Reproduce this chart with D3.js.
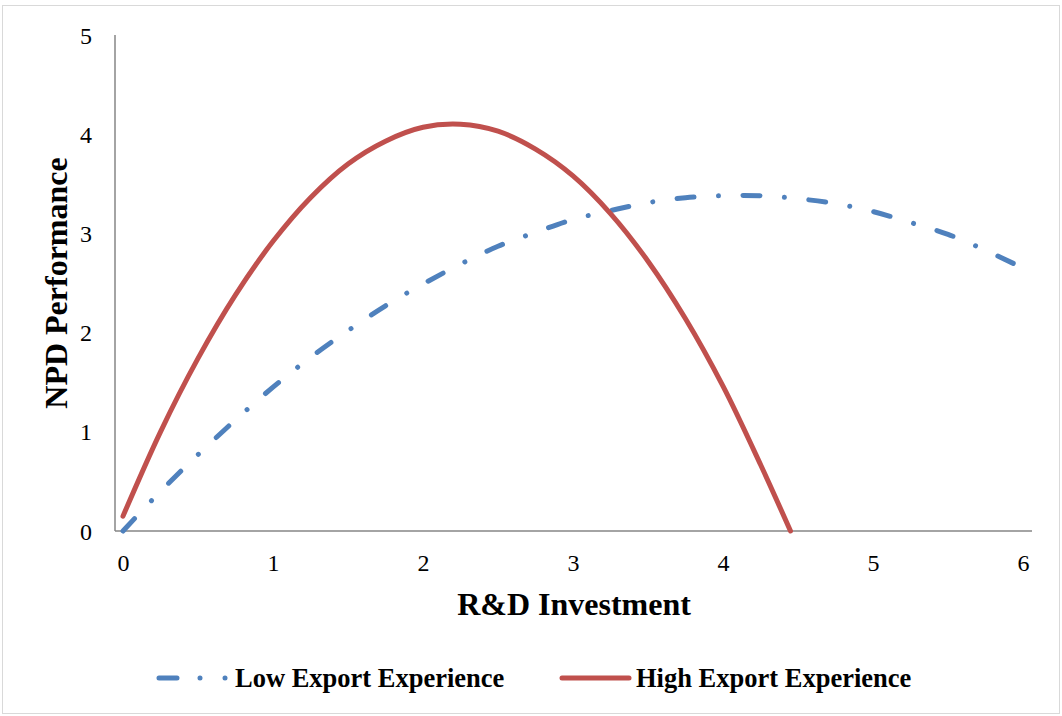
<!DOCTYPE html>
<html>
<head>
<meta charset="utf-8">
<script src="https://cdn.jsdelivr.net/npm/d3@7/dist/d3.min.js"></script>
<style>
  html, body { margin: 0; padding: 0; background: #fff; }
  svg { display: block; }
  text { font-family: "Liberation Serif", "Times New Roman", serif; fill: #000; }
</style>
</head>
<body>
<svg id="chart" width="1062" height="716"></svg>
<script>
// ---- data ----
const xTicks = [0, 1, 2, 3, 4, 5, 6];
const yTicks = [0, 1, 2, 3, 4, 5];

const lowX = [0, 0.25, 0.5, 0.75, 1.0, 1.25, 1.5, 1.75, 2.0, 2.25, 2.5, 2.75, 3.0, 3.25, 3.5, 3.75, 4.0, 4.25, 4.5, 4.75, 5.0, 5.25, 5.5, 5.75, 6.0];
const lowY = [0, 0.40, 0.77, 1.12, 1.45, 1.75, 2.02, 2.27, 2.49, 2.69, 2.87, 3.01, 3.14, 3.23, 3.31, 3.36, 3.38, 3.38, 3.35, 3.30, 3.22, 3.11, 2.99, 2.83, 2.65];

const highX = [0, 0.25, 0.5, 0.75, 1.0, 1.25, 1.5, 1.75, 2.0, 2.25, 2.5, 2.75, 3.0, 3.25, 3.5, 3.75, 4.0, 4.25, 4.45];
const highY = [0.15, 1.00, 1.74, 2.38, 2.92, 3.36, 3.70, 3.93, 4.07, 4.10, 4.03, 3.85, 3.58, 3.20, 2.72, 2.14, 1.46, 0.67, 0.0];

const seriesNames = ["Low Export Experience", "High Export Experience"];
const xTitle = "R&D Investment";
const yTitle = "NPD Performance";

// ---- drawing ----
const svg = d3.select("#chart");

svg.append("rect")
  .attr("x", 2.5).attr("y", 5.5).attr("width", 1057).attr("height", 708)
  .attr("fill", "#fff").attr("stroke", "#d9d9d9").attr("stroke-width", 1);

const x = d3.scaleLinear().domain([0, 6]).range([123, 1023]);
const y = d3.scaleLinear().domain([0, 5]).range([531, 35]);

// axis lines
svg.append("line")
  .attr("x1", 115).attr("x2", 1032).attr("y1", y(0)).attr("y2", y(0))
  .attr("stroke", "#868686").attr("stroke-width", 1.5);
svg.append("line")
  .attr("x1", 115).attr("x2", 115).attr("y1", y(0)).attr("y2", y(5))
  .attr("stroke", "#868686").attr("stroke-width", 1.5);

// tick labels via d3 axes (no tick lines)
const xAxis = d3.axisBottom(x).tickValues(xTicks).tickSize(0).tickPadding(0).tickFormat(d3.format("d"));
const gx = svg.append("g").attr("transform", `translate(0, 554)`).call(xAxis);
gx.select(".domain").remove();
gx.selectAll("text")
  .attr("dy", "0.71em")
  .style("font-family", '"Liberation Serif", serif')
  .style("font-size", "24px")
  .attr("fill", "#000");

const yAxis = d3.axisLeft(y).tickValues(yTicks).tickSize(0).tickPadding(0).tickFormat(d3.format("d"));
const gy = svg.append("g").attr("transform", `translate(92, 0)`).call(yAxis);
gy.select(".domain").remove();
gy.selectAll("text")
  .attr("dy", "0.34em")
  .style("font-family", '"Liberation Serif", serif')
  .style("font-size", "24px")
  .attr("fill", "#000");

// series
const line = d3.line().x(d => x(d[0])).y(d => y(d[1])).curve(d3.curveCatmullRom.alpha(0.5));
const lowData = lowX.map((v, i) => [v, lowY[i]]);
const highData = highX.map((v, i) => [v, highY[i]]);

svg.append("path")
  .attr("d", line(lowData))
  .attr("fill", "none")
  .attr("stroke", "#4f81bd")
  .attr("stroke-width", 5)
  .attr("stroke-linecap", "round")
  .attr("stroke-dasharray", "17,24.5,0.01,24.5");

svg.append("path")
  .attr("d", line(highData))
  .attr("fill", "none")
  .attr("stroke", "#c0504d")
  .attr("stroke-width", 5)
  .attr("stroke-linecap", "round");

// axis titles
svg.append("text")
  .attr("x", 574).attr("y", 615)
  .attr("text-anchor", "middle")
  .style("font-size", "32px").style("font-weight", "bold")
  .text(xTitle);

svg.append("text")
  .attr("transform", "translate(67, 283) rotate(-90)")
  .attr("text-anchor", "middle")
  .style("font-size", "32px").style("font-weight", "bold")
  .text(yTitle);

// legend
const lg = svg.append("g");
lg.append("line")
  .attr("x1", 159).attr("x2", 228).attr("y1", 678).attr("y2", 678)
  .attr("stroke", "#4f81bd").attr("stroke-width", 5).attr("stroke-linecap", "round")
  .attr("stroke-dasharray", "18,23,0.01,25,0.01,40");
lg.append("text")
  .attr("x", 235).attr("y", 687)
  .style("font-size", "26.5px").style("font-weight", "bold")
  .text(seriesNames[0]);

lg.append("line")
  .attr("x1", 562).attr("x2", 629).attr("y1", 678).attr("y2", 678)
  .attr("stroke", "#c0504d").attr("stroke-width", 5).attr("stroke-linecap", "round");
lg.append("text")
  .attr("x", 636).attr("y", 687)
  .style("font-size", "26.5px").style("font-weight", "bold")
  .text(seriesNames[1]);
</script>
</body>
</html>
